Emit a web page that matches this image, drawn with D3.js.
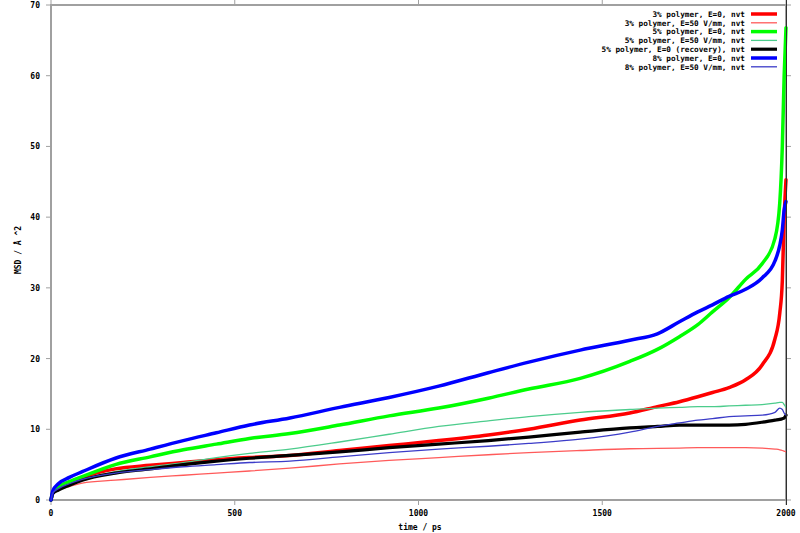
<!DOCTYPE html>
<html>
<head>
<meta charset="utf-8">
<script src="https://cdn.jsdelivr.net/npm/d3@7"></script>
<style>
  html, body { margin: 0; padding: 0; background: #fff; }
  svg { display: block; }
  text { font-family: "DejaVu Sans Mono", "Liberation Mono", monospace; font-weight: bold; fill: #000; }
</style>
</head>
<body>
<svg id="chart" width="800" height="533"></svg>
<script>
// ---- data ----
const timePs = [0, 5, 20, 50, 85, 175, 270, 360, 450, 540, 650, 785, 920, 1055, 1190, 1300, 1440, 1575, 1650, 1710, 1760, 1800, 1845, 1890, 1935, 1970, 1983, 1990, 1995, 2000];

const p3_E0     = [0, 1.0, 1.7, 2.5, 3.2, 4.4, 4.9, 5.3, 5.7, 6.0, 6.3, 7.0, 7.7, 8.4, 9.2, 10.0, 11.3, 12.3, 13.2, 13.9, 14.6, 15.2, 15.9, 17.0, 19.1, 22.8, 26.4, 31.0, 40.0, 45.3];
const p3_E50    = [0, 0.9, 1.5, 1.9, 2.4, 2.8, 3.2, 3.5, 3.8, 4.1, 4.5, 5.1, 5.6, 6.0, 6.4, 6.7, 7.0, 7.25, 7.3, 7.35, 7.4, 7.4, 7.4, 7.4, 7.35, 7.2, 7.1, 7.0, 6.9, 6.8];
const p5_E0     = [0, 1.1, 1.9, 2.6, 3.3, 5.0, 6.1, 7.1, 7.9, 8.7, 9.4, 10.6, 11.9, 13.0, 14.4, 15.7, 17.2, 19.6, 21.3, 23.1, 24.8, 26.6, 28.6, 31.2, 33.4, 37.0, 42.0, 50.0, 60.0, 66.8];
const p5_E50    = [0, 1.0, 1.6, 2.3, 2.9, 4.0, 4.7, 5.3, 6.0, 6.6, 7.2, 8.2, 9.3, 10.4, 11.2, 11.8, 12.4, 12.8, 13.0, 13.1, 13.2, 13.2, 13.3, 13.4, 13.5, 13.7, 13.8, 13.8, 13.5, 13.1];
const p5_E0rec  = [0, 0.9, 1.4, 2.1, 2.8, 3.8, 4.4, 5.0, 5.5, 5.9, 6.3, 6.8, 7.4, 7.9, 8.4, 8.9, 9.6, 10.2, 10.4, 10.6, 10.6, 10.6, 10.6, 10.7, 11.0, 11.3, 11.4, 11.5, 11.6, 12.0];
const p8_E0     = [0, 1.3, 2.3, 3.2, 4.0, 5.9, 7.2, 8.4, 9.5, 10.6, 11.6, 13.1, 14.5, 16.1, 18.0, 19.5, 21.2, 22.6, 23.5, 25.2, 26.6, 27.6, 28.8, 29.8, 31.4, 33.8, 36.0, 38.2, 41.0, 42.2];
const p8_E50    = [0, 1.0, 1.6, 2.3, 2.9, 3.8, 4.3, 4.7, 5.0, 5.3, 5.5, 6.1, 6.7, 7.2, 7.6, 8.0, 8.6, 9.6, 10.4, 10.9, 11.3, 11.5, 11.8, 11.9, 12.0, 12.4, 13.0, 12.8, 12.3, 12.0];

const seriesNames = [
  "3% polymer, E=0, nvt",
  "3% polymer, E=50 V/mm, nvt",
  "5% polymer, E=0, nvt",
  "5% polymer, E=50 V/mm, nvt",
  "5% polymer, E=0 (recovery), nvt",
  "8% polymer, E=0, nvt",
  "8% polymer, E=50 V/mm, nvt"
];
const seriesValues = [p3_E0, p3_E50, p5_E0, p5_E50, p5_E0rec, p8_E0, p8_E50];
const seriesColors = ["#ff0000", "#ff5a5a", "#00ff00", "#4ccc8c", "#000000", "#0000ff", "#3c3cc8"];
const seriesWidths = [3.5, 1.3, 3.5, 1.3, 3.2, 3.5, 1.3];

const xTicks = [0, 500, 1000, 1500, 2000];
const yTicks = [0, 10, 20, 30, 40, 50, 60, 70];
const xLabel = "time / ps";
const yLabel = "MSD / Å ^2";

// ---- layout ----
const L = 51, R = 786, T = 5, B = 500;
const svg = d3.select("#chart");
const x = d3.scaleLinear().domain([0, 2000]).range([L, R]);
const y = d3.scaleLinear().domain([0, 70]).range([B, T]);
const grey = "#a0a0a0";

// ticks (outward, on all four sides)
const tickLen = 5;
const tg = svg.append("g").attr("stroke", grey).attr("stroke-width", 1);
xTicks.forEach(v => {
  tg.append("line").attr("x1", x(v)).attr("x2", x(v)).attr("y1", B).attr("y2", B + tickLen);
  tg.append("line").attr("x1", x(v)).attr("x2", x(v)).attr("y1", T).attr("y2", T - tickLen);
});
yTicks.forEach(v => {
  tg.append("line").attr("x1", L).attr("x2", L - tickLen).attr("y1", y(v)).attr("y2", y(v));
  tg.append("line").attr("x1", R).attr("x2", R + tickLen).attr("y1", y(v)).attr("y2", y(v));
});

// border
svg.append("rect").attr("x", L).attr("y", T).attr("width", R - L).attr("height", B - T)
  .attr("fill", "none").attr("stroke", grey).attr("stroke-width", 2);

// tick labels
svg.append("g").selectAll("text").data(xTicks).join("text")
  .attr("x", d => x(d)).attr("y", 516).attr("text-anchor", "middle")
  .attr("font-size", 8).text(d => d);
svg.append("g").selectAll("text").data(yTicks).join("text")
  .attr("x", 40).attr("y", d => y(d) + 3).attr("text-anchor", "end")
  .attr("font-size", 8).text(d => d);

// axis titles
svg.append("text").attr("x", 420).attr("y", 530).attr("text-anchor", "middle")
  .attr("font-size", 8).text(xLabel);
svg.append("text").attr("transform", "translate(21,250) rotate(-90)").attr("text-anchor", "middle")
  .attr("font-size", 8).text(yLabel);

// curves
const line = d3.line().x((d, i) => x(timePs[i])).y(d => y(d)).curve(d3.curveMonotoneX);
const cg = svg.append("g").attr("fill", "none").attr("stroke-linejoin", "round").attr("stroke-linecap", "round");
seriesValues.forEach((vals, k) => {
  cg.append("path").datum(vals).attr("d", line)
    .attr("stroke", seriesColors[k]).attr("stroke-width", seriesWidths[k]);
});

// right-edge dark line
svg.append("line").attr("x1", R + 0.5).attr("x2", R + 0.5).attr("y1", 0).attr("y2", B + tickLen)
  .attr("stroke", "#303030").attr("stroke-width", 1);

// legend
const lg = svg.append("g");
seriesNames.forEach((name, k) => {
  const yy = 14 + k * 8.8;
  lg.append("text").attr("x", 745).attr("y", yy + 2.8).attr("text-anchor", "end")
    .attr("font-size", 7.7).text(name);
  lg.append("line").attr("x1", 751).attr("x2", 777).attr("y1", yy).attr("y2", yy)
    .attr("stroke", seriesColors[k]).attr("stroke-width", seriesWidths[k]);
});
</script>
</body>
</html>
